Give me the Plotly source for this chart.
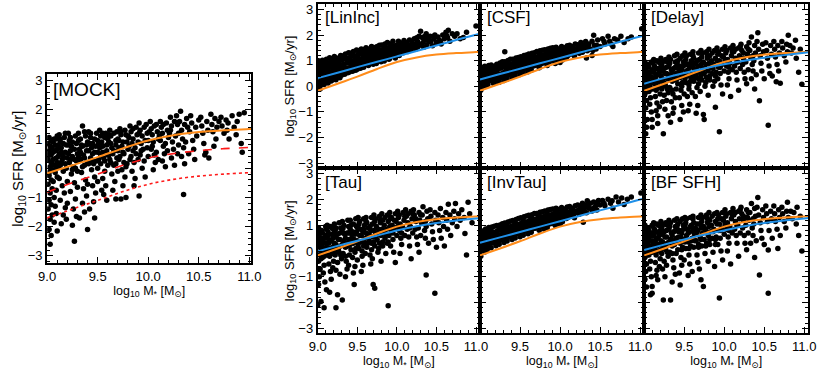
import plotly.graph_objects as go

W, H = 830, 370
ORANGE = "#ff8c1a"
BLUE = "#2090e8"
RED = "#ff1a1a"
FONT = "Liberation Sans, DejaVu Sans, Arial, sans-serif"

# mass grid for the model curves
CURVE_MASS = [9.0, 9.25, 9.5, 9.75, 10.0, 10.25, 10.5, 10.75, 11.0, 11.05]
TRUE_SFR = [-0.17, 0.1, 0.38, 0.68, 0.95, 1.13, 1.24, 1.3, 1.34, 1.35]
MOCK_DASH = [-0.82, -0.5, -0.2, 0.1, 0.35, 0.5, 0.6, 0.67, 0.71, 0.72]
MOCK_DOT = [-1.7, -1.4, -1.1, -0.8, -0.55, -0.38, -0.27, -0.2, -0.15, -0.14]

FIT_LININC = [0.32, 0.53, 0.75, 0.96, 1.17, 1.38, 1.6, 1.81, 2.02, 2.06]
FIT_CSF = [0.27, 0.48, 0.69, 0.9, 1.11, 1.32, 1.53, 1.74, 1.95, 1.99]
FIT_DELAY = [0.1, 0.32, 0.52, 0.7, 0.86, 1.0, 1.12, 1.22, 1.31, 1.33]
FIT_TAU = [-0.02, 0.2, 0.4, 0.6, 0.8, 0.96, 1.09, 1.19, 1.26, 1.27]
FIT_INVTAU = [0.32, 0.53, 0.74, 0.95, 1.16, 1.37, 1.58, 1.79, 2.0, 2.04]
FIT_BF = [0.04, 0.25, 0.45, 0.63, 0.8, 0.96, 1.09, 1.19, 1.26, 1.28]

# (log M*, log SFR) points
MOCK_PTS = [
    (9.01,0.85),(9.02,0.6),(9.01,0.3),(9.03,0.05),(9.02,-0.25),(9.01,-0.55),(9.03,-0.85),(9.02,-1.1),(9.01,-1.4),(9.03,-1.75),(9.02,-2.1),(9.04,-2.3),(9.03,-2.6),(9.04,0.95),(9.05,0.7),(9.04,0.45),(9.05,0.15),(9.04,-0.4),(9.05,-0.7),(9.04,-1.25),(9.05,-1.6),
    (9.07,1.0),(9.08,0.8),(9.06,0.55),(9.09,0.35),(9.07,0.1),(9.08,-0.15),(9.06,-0.45),(9.09,-0.75),(9.07,-1.0),(9.08,-1.3),(9.09,-1.55),(9.07,-1.85),(9.1,-2.15),(9.1,1.1),(9.1,0.65),(9.1,0.2),(9.1,-0.3),
    (9.12,1.15),(9.13,0.9),(9.14,0.7),(9.12,0.5),(9.15,0.3),(9.13,0.1),(9.16,-0.1),(9.12,-0.35),(9.15,-0.6),(9.17,-0.85),(9.13,-1.1),(9.18,-1.35),(9.16,-1.6),(9.19,-1.75),(9.17,1.05),(9.19,0.8),(9.18,0.55),(9.2,0.35),(9.19,0.0),(9.2,-0.45),(9.14,-1.9),(9.2,-1.2),
    (9.21,1.2),(9.22,0.95),(9.24,0.75),(9.23,0.6),(9.25,0.4),(9.22,0.2),(9.26,0.05),(9.24,-0.2),(9.27,-0.5),(9.23,-0.8),(9.28,-1.05),(9.26,-1.4),(9.29,-1.65),(9.25,-1.95),(9.27,-2.5),(9.28,1.1),(9.29,0.85),(9.3,0.5),(9.29,0.25),(9.3,-0.1),(9.3,-0.65),
    (9.31,1.2),(9.33,1.0),(9.34,0.8),(9.32,0.65),(9.35,1.45),(9.36,0.45),(9.33,0.3),(9.37,0.1),(9.34,-0.15),(9.38,-0.4),(9.36,-0.7),(9.39,-0.95),(9.35,-1.2),(9.37,-1.5),(9.32,-1.7),(9.4,-2.1),(9.38,1.1),(9.4,0.9),(9.39,0.6),(9.4,0.2),(9.4,-0.55),
    (9.41,1.25),(9.43,1.05),(9.42,0.85),(9.44,0.7),(9.45,0.5),(9.43,0.35),(9.46,0.15),(9.44,-0.05),(9.47,-0.3),(9.45,-0.6),(9.48,-0.85),(9.46,-1.15),(9.47,-1.7),(9.49,1.2),(9.5,0.95),(9.48,0.75),(9.5,0.55),(9.49,0.25),(9.5,0.0),(9.5,-0.45),(9.42,-1.4),
    (9.52,1.3),(9.53,1.1),(9.54,0.9),(9.52,0.7),(9.55,0.55),(9.56,0.35),(9.53,0.15),(9.57,-0.1),(9.55,-0.35),(9.58,-0.6),(9.56,-0.9),(9.59,-1.1),(9.58,1.2),(9.6,1.0),(9.59,0.8),(9.6,0.45),(9.6,0.1),(9.54,-0.75),
    (9.62,1.3),(9.63,1.1),(9.61,0.9),(9.64,0.7),(9.65,0.5),(9.62,0.3),(9.66,0.1),(9.64,-0.2),(9.67,-0.45),(9.65,-0.75),(9.68,-1.05),(9.69,1.25),(9.7,1.0),(9.68,0.8),(9.7,0.6),(9.69,0.35),(9.7,-0.1),
    (9.72,1.35),(9.73,1.15),(9.71,0.95),(9.74,0.75),(9.75,0.55),(9.72,0.4),(9.76,0.2),(9.74,-0.05),(9.77,-0.3),(9.75,-0.6),(9.78,-1.0),(9.77,1.3),(9.8,1.1),(9.79,0.9),(9.8,0.65),(9.79,0.15),(9.73,-1.05),
    (9.82,1.45),(9.83,1.25),(9.81,1.05),(9.84,0.85),(9.85,0.6),(9.83,0.4),(9.86,0.2),(9.84,-0.1),(9.87,-0.35),(9.88,1.4),(9.89,1.15),(9.9,0.9),(9.88,0.5),(9.9,0.3),(9.86,-0.6),
    (9.91,1.55),(9.92,1.3),(9.94,1.1),(9.93,0.85),(9.95,0.65),(9.92,0.45),(9.96,0.25),(9.94,0.0),(9.97,-0.3),(9.91,-0.95),(9.98,1.5),(9.99,1.2),(10.0,0.95),(9.99,0.7),(10.0,0.4),
    (10.02,1.6),(10.03,1.35),(10.04,1.15),(10.05,0.9),(10.03,0.65),(10.06,0.45),(10.07,0.2),(10.05,-0.05),(10.08,1.5),(10.09,1.25),(10.1,1.0),(10.08,0.55),(10.1,0.3),
    (10.12,1.6),(10.13,1.4),(10.14,1.2),(10.12,0.95),(10.15,0.75),(10.16,0.5),(10.14,0.25),(10.17,0.05),(10.18,1.55),(10.19,1.3),(10.2,1.05),(10.19,0.6),
    (10.22,1.75),(10.23,1.45),(10.21,1.2),(10.24,0.9),(10.25,0.65),(10.23,0.35),(10.26,0.1),(10.28,1.8),(10.29,1.5),(10.27,1.1),(10.3,0.8),(10.29,0.5),
    (10.32,1.95),(10.31,1.6),(10.33,1.3),(10.34,1.0),(10.35,0.7),(10.33,0.4),(10.36,0.15),(10.35,-0.9),(10.38,1.7),(10.39,1.4),(10.37,0.9),(10.4,0.5),
    (10.42,1.8),(10.43,1.55),(10.41,1.25),(10.44,0.95),(10.45,0.65),(10.47,1.4),(10.48,1.1),(10.46,0.3),(10.5,1.65),
    (10.52,1.75),(10.53,1.45),(10.54,1.2),(10.55,0.85),(10.57,0.55),(10.58,1.6),(10.59,1.3),(10.6,0.35),(10.56,0.45),
    (10.62,1.85),(10.63,1.5),(10.64,1.25),(10.66,1.7),(10.67,1.0),(10.68,1.4),(10.65,0.75),(10.7,1.6),
    (10.72,1.75),(10.73,1.45),(10.75,1.2),(10.77,1.65),(10.78,1.3),(10.8,1.0),(10.79,1.55),
    (10.83,1.8),(10.85,1.4),(10.87,1.15),(10.9,1.85),(10.92,0.85),(10.93,0.55),(10.88,1.6),(10.95,1.9),
]
MOCK_CORE = [
    (9.02,1.05),(9.03,0.75),(9.02,0.45),(9.04,0.2),(9.03,-0.1),(9.05,-0.05),(9.06,0.9),(9.06,0.3),(9.08,0.6),(9.09,0.0),(9.09,1.0),(9.11,0.8),(9.11,0.4),(9.11,0.05),(9.13,1.0),(9.14,0.55),(9.14,0.2),(9.16,0.85),(9.16,0.4),(9.18,1.2),(9.18,0.15),
    (9.21,0.8),(9.21,0.5),(9.23,0.3),(9.23,1.05),(9.25,0.9),(9.25,-0.05),(9.27,0.65),(9.27,0.3),(9.28,0.0),(9.31,0.95),(9.31,0.4),(9.33,0.55),(9.35,0.75),(9.35,0.05),(9.37,1.25),(9.37,0.35),(9.39,0.8),
    (9.41,0.6),(9.41,0.15),(9.43,1.2),(9.45,0.85),(9.45,0.25),(9.47,0.55),(9.47,1.0),(9.51,0.85),(9.51,0.3),(9.53,0.45),(9.55,1.2),(9.55,0.75),(9.57,0.25),(9.57,1.05),(9.59,0.6),
    (9.61,1.15),(9.61,0.45),(9.63,0.85),(9.63,0.2),(9.66,1.2),(9.66,0.6),(9.68,0.95),(9.68,0.15),(9.71,0.7),(9.71,0.3),(9.73,1.25),(9.75,0.9),(9.76,0.5),(9.78,1.15),(9.78,0.05),
    (9.81,0.75),(9.82,0.3),(9.85,1.35),(9.85,1.0),(9.87,0.7),(9.91,1.2),(9.93,0.6),(9.96,1.4),(9.97,0.95),(10.01,1.25),(10.04,0.75),(10.06,1.45),(10.11,1.1),(10.15,1.5),(10.17,0.85),(10.22,1.3),(10.26,1.6),(10.3,1.2),(10.36,1.5),
]

LININC_PTS = [
    (9.01,1.0),(9.02,0.83),(9.01,0.62),(9.03,0.37),(9.02,0.18),(9.01,0.02),(9.03,-0.1),(9.04,0.92),(9.05,0.71),(9.04,0.48),(9.05,0.27),(9.04,0.09),
    (9.06,1.02),(9.07,0.86),(9.06,0.63),(9.08,0.43),(9.07,0.24),(9.08,0.07),(9.09,0.97),(9.1,0.76),(9.09,0.53),(9.1,0.34),(9.1,0.16),
    (9.11,1.06),(9.12,0.88),(9.13,0.69),(9.12,0.47),(9.14,0.31),(9.13,0.13),(9.15,1.12),(9.16,0.94),(9.17,0.77),(9.16,0.56),(9.18,0.36),(9.17,0.21),(9.19,1.04),(9.2,0.86),(9.19,0.63),(9.2,0.46),(9.2,0.27),
    (9.21,1.17),(9.22,0.99),(9.23,0.78),(9.22,0.61),(9.24,0.41),(9.23,0.26),(9.25,1.09),(9.26,0.92),(9.27,0.71),(9.26,0.52),(9.28,0.34),(9.29,1.21),(9.3,1.02),(9.29,0.81),(9.3,0.59),(9.3,0.43),
    (9.31,1.19),(9.32,1.06),(9.33,0.87),(9.32,0.66),(9.34,0.47),(9.35,1.26),(9.36,1.08),(9.37,0.91),(9.36,0.72),(9.38,0.53),(9.39,1.31),(9.4,1.12),(9.39,0.93),(9.4,0.73),(9.4,0.56),
    (9.41,1.29),(9.42,1.16),(9.43,0.97),(9.42,0.77),(9.44,0.59),(9.45,1.36),(9.46,1.19),(9.47,1.01),(9.46,0.81),(9.48,0.63),(9.49,1.42),(9.5,1.22),(9.49,1.03),(9.5,0.84),(9.5,0.67),
    (9.51,1.39),(9.52,1.24),(9.53,1.06),(9.52,0.87),(9.54,0.71),(9.55,1.46),(9.56,1.31),(9.57,1.12),(9.56,0.92),(9.58,0.75),(9.59,1.44),(9.6,1.26),(9.59,1.07),(9.6,0.86),
    (9.61,1.51),(9.62,1.32),(9.63,1.13),(9.62,0.96),(9.64,0.81),(9.65,1.46),(9.66,1.29),(9.67,1.11),(9.66,0.93),(9.68,1.56),(9.69,1.37),(9.7,1.16),(9.69,0.99),(9.7,0.86),
    (9.71,1.52),(9.72,1.34),(9.73,1.19),(9.72,1.01),(9.74,0.89),(9.75,1.56),(9.76,1.41),(9.77,1.21),(9.76,1.03),(9.78,1.61),(9.79,1.42),(9.8,1.26),(9.79,1.09),(9.8,0.96),
    (9.81,1.62),(9.82,1.43),(9.83,1.26),(9.82,1.09),(9.84,0.99),(9.85,1.66),(9.86,1.47),(9.87,1.31),(9.86,1.13),(9.88,1.71),(9.89,1.51),(9.9,1.33),(9.89,1.16),(9.9,1.06),
    (9.91,1.66),(9.92,1.51),(9.93,1.36),(9.92,1.19),(9.95,1.76),(9.96,1.56),(9.97,1.39),(9.96,1.21),(9.98,1.11),(9.99,1.61),(10.0,1.46),(10.0,1.26),
    (10.02,1.76),(10.03,1.56),(10.04,1.39),(10.03,1.21),(10.06,1.69),(10.07,1.49),(10.08,1.31),(10.09,1.79),(10.1,1.56),(10.1,1.36),
    (10.12,1.71),(10.13,1.53),(10.14,1.36),(10.16,1.81),(10.17,1.61),(10.18,1.43),(10.19,1.71),(10.2,1.51),
    (10.22,1.86),(10.23,1.66),(10.24,1.46),(10.26,1.76),(10.27,1.56),(10.28,1.96),(10.3,2.15),(10.29,1.63),
    (10.32,1.91),(10.33,1.71),(10.34,1.53),(10.36,1.81),(10.37,2.06),(10.38,1.63),(10.4,1.89),
    (10.42,1.96),(10.43,1.76),(10.45,1.59),(10.47,1.86),(10.48,2.01),(10.5,1.71),
    (10.52,1.93),(10.54,1.79),(10.56,1.66),(10.58,2.01),(10.6,1.86),
    (10.62,2.11),(10.65,2.19),(10.64,1.91),(10.67,1.76),(10.7,2.06),
    (10.73,1.96),(10.76,2.06),(10.8,1.86),(10.84,1.91),(10.88,2.11),(11.0,2.36),
]
LININC_CORE = [
    (9.02,0.5),(9.03,0.7),(9.05,0.85),(9.06,0.35),(9.08,0.95),(9.09,0.25),(9.11,0.6),(9.13,0.4),(9.14,0.85),(9.17,1.0),(9.18,0.5),(9.21,0.7),(9.22,0.35),(9.24,0.95),(9.26,0.6),(9.28,1.15),
    (9.31,0.55),(9.33,0.75),(9.34,1.15),(9.37,0.6),(9.38,1.0),(9.41,0.65),(9.43,0.85),(9.44,1.25),(9.47,0.7),(9.48,1.1),(9.51,0.75),(9.53,0.95),(9.54,1.35),(9.57,0.82),(9.58,1.2),
    (9.61,0.88),(9.63,1.05),(9.64,1.4),(9.67,0.9),(9.68,1.25),(9.71,0.95),(9.73,1.1),(9.74,1.48),(9.77,1.05),(9.78,1.3),(9.81,1.02),(9.83,1.15),(9.84,1.55),(9.87,1.15),(9.88,1.4),
    (9.91,1.1),(9.93,1.25),(9.94,1.6),(9.97,1.2),(9.98,1.5),(10.01,1.3),(10.04,1.6),(10.05,1.45),(10.08,1.65),(10.11,1.45),(10.15,1.6),(10.21,1.55),(10.25,1.9),(10.31,1.65),(10.35,1.95),
    (10.41,1.75),(10.46,1.95),(10.55,1.75),(10.63,1.98),
]

CSF_PTS = [
    (9.01,0.75),(9.02,0.56),(9.01,0.34),(9.03,0.16),(9.02,-0.04),(9.01,-0.15),(9.04,0.69),(9.05,0.49),(9.04,0.29),(9.05,0.11),(9.06,0.79),(9.07,0.61),(9.06,0.41),(9.08,0.19),(9.07,0.01),(9.09,0.71),(9.1,0.52),(9.09,0.31),(9.1,0.09),
    (9.11,0.81),(9.12,0.62),(9.13,0.41),(9.12,0.23),(9.14,0.83),(9.15,0.64),(9.16,0.46),(9.15,0.26),(9.17,0.11),(9.18,0.79),(9.19,0.61),(9.2,0.39),(9.19,0.21),
    (9.21,0.86),(9.22,0.66),(9.23,0.47),(9.22,0.31),(9.24,0.16),(9.25,0.91),(9.26,0.71),(9.27,0.49),(9.26,0.33),(9.28,0.96),(9.29,0.76),(9.3,0.54),(9.29,0.39),(9.3,0.23),
    (9.31,1.35),(9.31,0.96),(9.32,0.77),(9.33,0.61),(9.32,0.43),(9.34,0.29),(9.35,1.01),(9.36,0.81),(9.37,0.63),(9.36,0.46),(9.38,1.06),(9.39,0.86),(9.4,0.67),(9.39,0.51),(9.4,0.36),
    (9.41,1.06),(9.42,0.89),(9.43,0.71),(9.42,0.53),(9.44,0.41),(9.45,1.11),(9.46,0.93),(9.47,0.75),(9.46,0.57),(9.48,1.13),(9.49,0.96),(9.5,0.79),(9.49,0.61),(9.5,0.46),
    (9.51,1.16),(9.52,0.99),(9.53,0.81),(9.52,0.63),(9.54,0.51),(9.55,1.21),(9.56,1.01),(9.57,0.85),(9.56,0.67),(9.58,1.23),(9.59,1.06),(9.6,0.89),(9.59,0.71),(9.6,0.57),
    (9.61,1.26),(9.62,1.09),(9.63,0.91),(9.62,0.76),(9.64,0.63),(9.65,1.29),(9.66,1.11),(9.67,0.95),(9.66,0.79),(9.68,1.31),(9.69,1.13),(9.7,0.97),(9.69,0.81),
    (9.71,1.36),(9.72,1.16),(9.73,1.01),(9.72,0.85),(9.74,0.73),(9.75,1.39),(9.76,1.21),(9.77,1.03),(9.76,0.87),(9.78,1.41),(9.79,1.23),(9.8,1.06),(9.79,0.91),
    (9.81,1.43),(9.82,1.26),(9.83,1.09),(9.82,0.93),(9.84,0.81),(9.85,1.46),(9.86,1.29),(9.87,1.11),(9.86,0.96),(9.88,1.49),(9.89,1.31),(9.9,1.13),(9.89,0.99),
    (9.91,1.51),(9.92,1.33),(9.93,1.16),(9.92,1.01),(9.94,0.89),(9.95,1.53),(9.96,1.36),(9.97,1.19),(9.96,1.03),(9.98,1.46),(9.99,1.26),(10.0,1.09),(10.0,0.93),
    (10.02,1.56),(10.03,1.39),(10.04,1.21),(10.03,1.03),(10.06,1.51),(10.07,1.31),(10.08,1.13),(10.09,1.59),(10.1,1.41),(10.1,1.21),
    (10.12,1.61),(10.13,1.43),(10.14,1.26),(10.16,1.56),(10.17,1.36),(10.18,1.19),(10.19,1.66),(10.2,1.46),
    (10.22,1.63),(10.23,1.46),(10.24,1.29),(10.26,1.71),(10.27,1.51),(10.28,1.33),(10.3,1.61),
    (10.32,1.75),(10.33,1.56),(10.34,1.39),(10.33,1.11),(10.36,1.66),(10.38,1.46),(10.4,1.76),(10.4,1.21),
    (10.42,2.0),(10.43,1.61),(10.45,1.46),(10.47,1.81),(10.5,1.56),
    (10.53,1.86),(10.56,1.66),(10.6,1.96),(10.62,1.76),(10.66,1.56),(10.68,1.86),
    (10.72,1.81),(10.76,1.96),(10.8,1.71),(10.85,1.86),(10.89,1.93),(11.02,2.25),
]
CSF_CORE = [
    (9.02,0.25),(9.03,0.45),(9.05,0.6),(9.06,0.15),(9.08,0.7),(9.09,0.05),(9.11,0.5),(9.13,0.3),(9.14,0.7),(9.17,0.55),(9.18,0.35),(9.21,0.55),(9.22,0.2),(9.24,0.75),(9.26,0.4),(9.28,0.85),
    (9.31,0.5),(9.33,0.7),(9.34,0.9),(9.37,0.5),(9.38,0.8),(9.41,0.6),(9.43,0.8),(9.44,1.0),(9.47,0.65),(9.48,0.9),(9.51,0.7),(9.53,0.9),(9.54,1.1),(9.57,0.75),(9.58,1.0),
    (9.61,0.8),(9.63,1.0),(9.64,1.2),(9.67,0.85),(9.68,1.05),(9.71,0.9),(9.73,1.1),(9.74,1.3),(9.77,0.95),(9.78,1.15),(9.81,1.0),(9.83,1.2),(9.84,1.35),(9.87,1.05),(9.88,1.25),
    (9.91,1.05),(9.93,1.25),(9.94,1.45),(9.97,1.1),(9.98,1.35),(10.01,1.15),(10.04,1.45),(10.05,1.3),(10.08,1.5),(10.11,1.3),(10.15,1.45),(10.21,1.35),(10.25,1.55),(10.31,1.45),(10.35,1.55),
    (10.41,1.4),(10.46,1.6),(10.55,1.75),(10.64,1.65),
]

DELAY_PTS = [
    (9.01,0.95),(9.02,0.7),(9.01,0.45),(9.03,0.2),(9.02,-0.05),(9.01,-0.3),(9.03,-0.55),(9.02,-0.85),(9.04,-1.3),(9.03,-1.6),(9.02,-1.85),(9.05,0.85),(9.06,0.55),(9.05,0.3),(9.07,0.05),(9.06,-0.2),(9.08,-0.45),(9.07,-0.7),(9.09,-1.0),(9.1,-1.3),(9.09,0.95),(9.1,0.65),(9.1,0.35),(9.1,-0.1),(9.1,-1.6),
    (9.12,1.05),(9.13,0.8),(9.12,0.55),(9.14,0.35),(9.13,0.1),(9.15,-0.15),(9.14,-0.4),(9.16,-0.65),(9.15,-0.95),(9.17,-1.15),(9.16,1.0),(9.18,0.7),(9.17,0.45),(9.19,0.2),(9.18,-0.05),(9.2,-0.3),(9.19,-0.8),(9.2,0.9),(9.17,-1.45),
    (9.21,1.1),(9.22,0.85),(9.23,0.6),(9.21,0.4),(9.24,0.15),(9.22,-0.1),(9.25,-0.35),(9.23,-0.6),(9.26,-0.9),(9.24,-1.85),(9.27,1.05),(9.28,0.75),(9.26,0.5),(9.29,0.3),(9.27,0.0),(9.3,-0.25),(9.28,-0.55),(9.3,-1.15),(9.29,0.95),
    (9.31,1.15),(9.32,0.9),(9.34,0.65),(9.33,0.45),(9.35,0.2),(9.32,-0.05),(9.36,-0.3),(9.34,-0.6),(9.37,-0.85),(9.33,-1.4),(9.38,1.2),(9.39,0.95),(9.37,0.7),(9.4,0.5),(9.38,0.25),(9.4,-0.1),(9.39,-0.45),(9.36,-1.05),
    (9.41,1.25),(9.42,1.0),(9.44,0.8),(9.43,0.55),(9.45,0.35),(9.42,0.1),(9.46,-0.15),(9.44,-0.45),(9.47,-0.75),(9.45,-1.3),(9.48,1.2),(9.49,0.95),(9.47,0.65),(9.5,0.4),(9.48,0.15),(9.5,-0.3),(9.49,-1.0),
    (9.51,1.3),(9.52,1.05),(9.54,0.85),(9.53,0.6),(9.55,0.4),(9.52,0.15),(9.56,-0.1),(9.54,-0.4),(9.57,-0.7),(9.58,1.25),(9.59,1.0),(9.57,0.75),(9.6,0.5),(9.58,0.2),(9.6,-0.25),(9.55,-0.95),
    (9.61,1.35),(9.62,1.1),(9.64,0.9),(9.63,0.65),(9.65,0.45),(9.62,0.2),(9.66,-0.05),(9.64,-0.4),(9.67,-0.75),(9.68,1.3),(9.69,1.05),(9.67,0.8),(9.7,0.55),(9.68,0.3),(9.7,-0.2),(9.65,-1.05),
    (9.71,1.4),(9.72,1.15),(9.74,0.95),(9.73,0.7),(9.75,0.5),(9.72,0.25),(9.76,0.0),(9.74,-1.1),(9.75,-1.3),(9.78,1.35),(9.79,1.1),(9.77,0.85),(9.8,0.6),(9.78,0.35),(9.8,-0.35),
    (9.81,1.45),(9.82,1.2),(9.84,1.0),(9.83,0.75),(9.85,0.5),(9.82,0.25),(9.86,0.0),(9.88,1.4),(9.89,1.1),(9.87,0.85),(9.9,0.55),(9.89,-0.82),(9.88,0.2),
    (9.91,1.5),(9.92,1.25),(9.94,1.0),(9.93,0.75),(9.95,0.5),(9.92,0.3),(9.96,0.05),(9.94,-1.78),(9.98,1.45),(9.99,1.15),(9.97,0.85),(10.0,0.6),(9.98,-0.3),
    (10.01,1.55),(10.02,1.3),(10.04,1.05),(10.03,0.8),(10.05,0.55),(10.06,0.3),(10.04,0.05),(10.08,1.5),(10.09,1.2),(10.07,0.9),(10.1,0.65),(10.08,-0.4),
    (10.11,1.6),(10.12,1.35),(10.14,1.1),(10.13,0.8),(10.15,0.55),(10.16,0.25),(10.18,1.5),(10.19,1.2),(10.17,0.95),(10.2,0.7),(10.18,-0.15),
    (10.21,1.65),(10.22,1.4),(10.24,1.1),(10.23,0.85),(10.25,0.55),(10.26,0.3),(10.28,1.55),(10.29,1.25),(10.27,0.95),(10.3,0.65),(10.28,0.1),
    (10.31,1.7),(10.34,1.93),(10.32,1.4),(10.33,1.15),(10.35,0.85),(10.36,0.6),(10.34,0.3),(10.38,1.6),(10.39,1.3),(10.37,1.0),(10.4,0.45),(10.38,-0.1),
    (10.42,2.1),(10.41,1.75),(10.43,1.45),(10.44,-0.56),(10.45,1.2),(10.46,0.9),(10.47,0.6),(10.48,1.65),(10.49,1.35),(10.5,0.3),
    (10.55,-1.52),(10.52,1.7),(10.53,1.4),(10.54,1.1),(10.56,0.8),(10.57,0.5),(10.58,1.6),(10.59,1.25),(10.6,0.4),
    (10.62,1.75),(10.63,1.45),(10.64,1.15),(10.65,0.18),(10.66,0.85),(10.67,1.6),(10.69,1.3),(10.7,0.12),(10.68,0.6),
    (10.72,1.75),(10.73,1.5),(10.75,1.2),(10.77,0.95),(10.78,1.65),(10.8,2.0),(10.79,1.35),
    (10.82,1.6),(10.84,1.3),(10.86,1.5),(10.89,1.8),(10.9,1.1),(10.93,0.55),(10.97,0.08),(10.95,1.45),
]
DELAY_CORE = [
    (9.02,0.85),(9.03,0.55),(9.02,0.3),(9.04,0.05),(9.04,-0.2),(9.06,0.75),(9.06,0.4),(9.08,0.15),(9.08,-0.1),(9.09,0.55),(9.11,0.9),(9.11,0.2),(9.13,0.65),(9.14,-0.1),(9.15,0.45),(9.16,0.15),(9.18,0.95),(9.19,0.55),
    (9.21,0.75),(9.21,0.0),(9.23,0.95),(9.23,0.3),(9.25,0.7),(9.26,0.1),(9.28,0.5),(9.29,-0.1),(9.31,0.8),(9.31,0.3),(9.33,1.05),(9.35,0.55),(9.35,-0.15),(9.37,0.35),(9.39,0.75),
    (9.41,0.9),(9.41,0.3),(9.43,0.7),(9.45,1.1),(9.46,0.5),(9.47,0.0),(9.49,0.8),(9.51,0.95),(9.51,0.3),(9.53,1.2),(9.55,0.65),(9.56,0.05),(9.58,0.9),(9.59,0.35),
    (9.61,0.75),(9.61,1.2),(9.63,0.35),(9.66,1.0),(9.66,0.65),(9.68,0.1),(9.71,0.85),(9.71,0.4),(9.73,1.3),(9.76,0.7),(9.77,0.15),(9.79,1.2),(9.81,0.9),(9.82,0.4),(9.85,1.3),(9.86,0.7),(9.89,0.4),
    (9.91,1.0),(9.93,1.35),(9.95,0.75),(9.97,1.2),(10.01,1.0),(10.03,1.4),(10.06,0.75),(10.1,1.35),(10.14,1.45),(10.16,0.95),(10.2,1.55),(10.24,1.3),(10.3,1.45),(10.36,1.2),
]

TAU_PTS = [
    (9.01,0.9),(9.02,0.65),(9.01,0.4),(9.03,0.15),(9.02,-0.1),(9.01,-0.4),(9.03,-0.7),(9.02,-1.0),(9.01,-1.3),(9.0,-2.1),(9.04,-1.96),(9.05,0.8),(9.06,0.5),(9.05,0.25),(9.07,0.0),(9.06,-0.25),(9.08,-0.55),(9.07,-0.85),(9.09,-1.2),(9.08,-2.2),(9.1,0.95),(9.1,0.6),(9.1,0.3),(9.1,-0.15),(9.11,-1.5),
    (9.12,1.0),(9.13,0.75),(9.12,0.5),(9.14,0.3),(9.13,0.05),(9.15,-0.2),(9.14,-0.5),(9.16,-0.8),(9.17,-1.1),(9.16,0.95),(9.18,0.65),(9.17,0.4),(9.19,0.15),(9.18,-0.1),(9.2,-0.4),(9.19,-0.65),(9.2,0.85),(9.15,-1.6),
    (9.21,1.05),(9.22,0.8),(9.23,0.55),(9.21,0.3),(9.24,0.1),(9.22,-0.15),(9.25,-0.45),(9.23,-0.75),(9.23,-2.2),(9.25,-1.7),(9.27,1.1),(9.28,0.7),(9.26,0.45),(9.29,0.2),(9.27,-0.05),(9.3,-0.3),(9.28,-0.9),(9.29,0.9),
    (9.31,1.15),(9.32,0.9),(9.34,0.65),(9.33,0.4),(9.35,0.15),(9.32,-0.1),(9.36,-0.4),(9.31,-1.9),(9.37,-0.7),(9.38,1.2),(9.39,0.95),(9.37,0.7),(9.4,0.45),(9.38,0.2),(9.4,-0.15),(9.39,-0.55),(9.35,-1.0),
    (9.41,1.2),(9.42,1.0),(9.44,0.75),(9.43,0.5),(9.45,0.3),(9.42,0.05),(9.46,-1.3),(9.44,-0.25),(9.47,-0.6),(9.48,1.25),(9.49,0.95),(9.47,0.65),(9.5,0.4),(9.48,0.1),(9.5,-0.35),(9.45,-0.85),
    (9.51,1.3),(9.52,1.05),(9.54,0.85),(9.53,0.6),(9.55,0.35),(9.52,0.1),(9.56,-0.2),(9.57,-0.55),(9.58,1.25),(9.59,1.0),(9.57,0.75),(9.6,0.5),(9.58,0.2),(9.6,-0.1),(9.55,-0.8),
    (9.61,1.3),(9.62,1.1),(9.64,0.9),(9.63,0.65),(9.65,0.4),(9.62,0.15),(9.66,-0.15),(9.67,-0.5),(9.68,1.3),(9.69,1.05),(9.67,0.8),(9.7,0.55),(9.68,0.3),(9.7,-1.3),(9.69,-0.3),
    (9.71,1.4),(9.72,1.15),(9.74,0.95),(9.73,0.7),(9.75,0.45),(9.72,0.2),(9.76,-0.05),(9.72,-1.45),(9.78,1.35),(9.79,1.1),(9.77,0.85),(9.8,0.6),(9.78,0.3),(9.8,-0.4),
    (9.81,1.45),(9.82,1.2),(9.84,1.0),(9.83,0.75),(9.85,0.5),(9.82,0.2),(9.86,-0.1),(9.89,-2.13),(9.88,1.4),(9.89,1.15),(9.87,0.85),(9.9,0.6),(9.88,0.3),
    (9.91,1.5),(9.92,1.25),(9.94,1.0),(9.93,0.75),(9.95,0.45),(9.92,0.2),(9.96,-0.05),(9.98,1.45),(9.99,1.15),(9.97,0.9),(10.0,0.6),(9.98,-0.45),
    (10.01,1.55),(10.02,1.3),(10.04,1.05),(10.03,0.8),(10.05,0.5),(10.06,0.25),(10.04,-0.1),(10.08,1.5),(10.09,1.2),(10.07,0.95),(10.1,0.6),
    (10.11,1.6),(10.12,1.35),(10.14,1.1),(10.13,0.85),(10.15,0.55),(10.16,0.2),(10.18,1.55),(10.19,1.25),(10.17,0.95),(10.2,0.7),(10.18,-0.3),
    (10.21,1.6),(10.22,1.4),(10.24,1.15),(10.23,0.85),(10.25,0.55),(10.26,0.25),(10.28,1.5),(10.29,1.2),(10.27,0.9),(10.3,0.6),(10.28,-0.05),
    (10.33,1.72),(10.32,1.4),(10.31,1.1),(10.35,0.8),(10.36,0.5),(10.37,-0.93),(10.38,1.55),(10.39,1.25),(10.37,0.95),(10.4,0.3),
    (10.42,1.6),(10.43,1.35),(10.44,1.05),(10.45,0.75),(10.46,0.45),(10.48,-1.64),(10.48,1.5),(10.49,1.2),(10.5,0.15),
    (10.55,1.65),(10.52,1.4),(10.53,1.1),(10.54,0.8),(10.56,0.5),(10.58,1.3),(10.59,0.95),(10.6,0.2),
    (10.65,1.82),(10.62,1.5),(10.63,1.2),(10.64,0.85),(10.67,1.4),(10.68,0.6),(10.7,1.1),
    (10.74,1.85),(10.72,1.55),(10.73,1.25),(10.76,0.95),(10.78,1.45),(10.8,1.2),
    (10.82,1.6),(10.85,1.3),(10.86,0.68),(10.88,-0.15),(10.9,1.9),(10.92,1.45),(10.95,1.1),
]
TAU_CORE = [
    (9.02,0.8),(9.03,0.5),(9.02,0.25),(9.04,0.0),(9.04,-0.3),(9.06,0.7),(9.06,0.35),(9.08,0.1),(9.08,-0.2),(9.09,0.5),(9.11,0.85),(9.11,0.15),(9.13,0.6),(9.14,-0.15),(9.15,0.4),(9.16,0.1),(9.18,0.9),(9.19,0.5),
    (9.21,0.7),(9.21,-0.05),(9.23,0.9),(9.23,0.25),(9.25,0.65),(9.26,0.05),(9.28,0.45),(9.29,-0.15),(9.31,0.75),(9.31,0.25),(9.33,1.0),(9.35,0.5),(9.35,-0.2),(9.37,0.3),(9.39,0.7),
    (9.41,0.85),(9.41,0.25),(9.43,0.65),(9.45,1.05),(9.46,0.45),(9.47,-0.05),(9.49,0.75),(9.51,0.9),(9.51,0.25),(9.53,1.15),(9.55,0.6),(9.56,0.0),(9.58,0.85),(9.59,0.3),
    (9.61,0.7),(9.61,1.15),(9.63,0.3),(9.66,0.95),(9.66,0.6),(9.68,0.05),(9.71,0.8),(9.71,0.35),(9.73,1.25),(9.76,0.65),(9.77,0.1),(9.79,1.2),(9.81,0.85),(9.82,0.35),(9.85,1.3),(9.86,0.65),(9.89,0.35),
    (9.91,0.95),(9.93,1.3),(9.95,0.7),(9.97,1.2),(10.01,0.95),(10.03,1.4),(10.06,0.7),(10.1,1.35),(10.14,1.45),(10.16,0.9),(10.2,1.45),(10.24,1.25),(10.3,1.4),(10.36,1.15),
]

INVTAU_PTS = [
    (9.01,0.8),(9.02,0.61),(9.01,0.39),(9.03,0.21),(9.02,0.01),(9.01,-0.2),(9.04,0.76),(9.05,0.54),(9.04,0.36),(9.05,0.14),(9.06,-0.04),(9.07,0.86),(9.08,0.64),(9.07,0.46),(9.08,0.24),(9.09,0.06),(9.1,0.81),(9.1,0.59),(9.1,0.41),(9.1,0.19),
    (9.11,0.91),(9.12,0.69),(9.13,0.51),(9.12,0.29),(9.14,0.13),(9.15,0.93),(9.16,0.71),(9.17,0.53),(9.16,0.31),(9.18,0.96),(9.19,0.74),(9.2,0.56),(9.19,0.34),(9.2,0.21),
    (9.21,0.99),(9.22,0.79),(9.23,0.61),(9.22,0.39),(9.24,0.26),(9.25,1.01),(9.26,0.81),(9.27,0.63),(9.26,0.43),(9.28,1.06),(9.29,0.84),(9.3,0.67),(9.29,0.47),(9.3,0.33),
    (9.31,1.09),(9.32,0.89),(9.33,0.71),(9.32,0.51),(9.34,0.39),(9.35,1.13),(9.36,0.91),(9.37,0.75),(9.36,0.55),(9.38,1.16),(9.39,0.95),(9.4,0.79),(9.39,0.59),(9.4,0.45),
    (9.41,1.19),(9.42,0.99),(9.43,0.83),(9.42,0.63),(9.44,0.51),(9.45,1.23),(9.46,1.01),(9.47,0.86),(9.46,0.67),(9.48,1.26),(9.49,1.04),(9.5,0.89),(9.49,0.69),(9.5,0.56),
    (9.51,1.29),(9.52,1.09),(9.53,0.93),(9.52,0.74),(9.54,0.61),(9.55,1.33),(9.56,1.11),(9.57,0.96),(9.56,0.77),(9.58,1.36),(9.59,1.14),(9.6,0.99),(9.59,0.79),(9.6,0.67),
    (9.61,1.39),(9.62,1.19),(9.63,1.03),(9.62,0.84),(9.64,0.73),(9.65,1.41),(9.66,1.21),(9.67,1.06),(9.66,0.87),(9.68,1.46),(9.69,1.24),(9.7,1.09),(9.69,0.89),
    (9.71,1.46),(9.72,1.27),(9.73,1.11),(9.72,0.93),(9.74,0.81),(9.75,1.51),(9.76,1.29),(9.77,1.13),(9.76,0.95),(9.78,1.53),(9.79,1.33),(9.8,1.16),(9.79,0.97),(9.8,0.86),
    (9.81,1.56),(9.82,1.37),(9.83,1.21),(9.82,1.01),(9.84,0.91),(9.85,1.59),(9.86,1.39),(9.87,1.23),(9.86,1.04),(9.88,1.61),(9.89,1.41),(9.9,1.26),(9.89,1.07),
    (9.91,1.63),(9.92,1.44),(9.93,1.29),(9.92,1.09),(9.94,0.99),(9.95,1.66),(9.96,1.47),(9.97,1.31),(9.96,1.11),(9.98,1.61),(9.99,1.39),(10.0,1.23),(10.0,1.04),
    (10.02,1.69),(10.03,1.49),(10.04,1.33),(10.03,1.14),(10.06,1.63),(10.07,1.41),(10.08,1.26),(10.09,1.71),(10.1,1.49),(10.1,1.31),
    (10.12,1.73),(10.13,1.54),(10.14,1.39),(10.16,1.66),(10.17,1.44),(10.18,1.29),(10.19,1.76),(10.2,1.54),
    (10.22,1.79),(10.23,1.59),(10.24,1.43),(10.26,1.71),(10.27,1.49),(10.28,1.86),(10.3,1.61),(10.29,1.12),
    (10.32,1.79),(10.34,1.95),(10.33,1.49),(10.36,1.66),(10.38,1.86),(10.4,1.56),
    (10.42,1.91),(10.44,1.73),(10.46,1.59),(10.48,1.96),(10.5,1.79),
    (10.53,1.96),(10.56,1.76),(10.6,2.01),(10.63,1.86),(10.66,1.66),(10.7,2.1),
    (10.73,1.91),(10.77,2.06),(10.8,1.81),(10.84,2.01),(10.89,2.1),(11.01,2.26),
]
INVTAU_CORE = [
    (9.02,0.3),(9.03,0.5),(9.05,0.65),(9.06,0.25),(9.08,0.75),(9.09,0.15),(9.11,0.6),(9.13,0.4),(9.14,0.8),(9.17,0.65),(9.18,0.45),(9.21,0.7),(9.22,0.3),(9.24,0.9),(9.26,0.55),(9.28,0.95),
    (9.31,0.6),(9.33,0.8),(9.34,1.0),(9.37,0.65),(9.38,0.85),(9.41,0.7),(9.43,0.9),(9.44,1.1),(9.47,0.75),(9.48,1.0),(9.51,0.82),(9.53,1.0),(9.54,1.2),(9.57,0.87),(9.58,1.08),
    (9.61,0.92),(9.63,1.1),(9.64,1.3),(9.67,0.97),(9.68,1.15),(9.71,1.02),(9.73,1.2),(9.74,1.38),(9.77,1.05),(9.78,1.25),(9.81,1.1),(9.83,1.3),(9.84,1.45),(9.87,1.15),(9.88,1.35),
    (9.91,1.18),(9.93,1.38),(9.94,1.55),(9.97,1.22),(9.98,1.45),(10.01,1.3),(10.04,1.58),(10.05,1.4),(10.08,1.55),(10.11,1.4),(10.15,1.55),(10.21,1.5),(10.25,1.62),(10.31,1.7),(10.35,1.75),
    (10.41,1.65),(10.46,1.85),(10.55,1.85),(10.65,1.95),
]

BF_PTS = [
    (9.01,1.0),(9.02,0.75),(9.01,0.5),(9.03,0.25),(9.02,0.0),(9.01,-0.25),(9.03,-0.5),(9.02,-0.8),(9.01,-1.1),(9.03,-1.4),(9.05,0.9),(9.06,0.6),(9.05,0.35),(9.07,0.1),(9.06,-0.15),(9.08,-0.4),(9.07,-0.7),(9.08,-1.7),(9.09,-1.0),(9.1,-1.64),(9.1,1.0),(9.1,0.7),(9.1,0.4),(9.1,-0.05),(9.1,-1.38),
    (9.12,1.1),(9.13,0.85),(9.12,0.6),(9.14,0.35),(9.13,0.1),(9.15,-0.15),(9.14,-0.45),(9.16,-0.75),(9.17,-1.12),(9.16,1.05),(9.18,0.75),(9.17,0.5),(9.19,0.25),(9.18,0.0),(9.2,-0.3),(9.19,-0.6),(9.2,0.95),(9.15,-0.95),
    (9.21,1.15),(9.22,0.9),(9.23,0.65),(9.21,0.4),(9.24,0.15),(9.22,-0.1),(9.25,-0.4),(9.23,-0.7),(9.24,-1.9),(9.26,-1.0),(9.27,1.1),(9.28,0.8),(9.26,0.55),(9.29,0.3),(9.27,0.05),(9.3,-0.2),(9.28,-0.55),(9.29,1.0),
    (9.31,1.2),(9.32,0.95),(9.34,0.7),(9.33,0.45),(9.35,0.2),(9.32,-0.05),(9.36,-0.35),(9.33,-1.9),(9.37,-0.65),(9.38,1.2),(9.39,0.95),(9.37,0.75),(9.4,0.5),(9.38,0.25),(9.4,-0.1),(9.39,-0.9),(9.35,-1.2),
    (9.41,1.25),(9.42,1.05),(9.44,0.8),(9.43,0.55),(9.45,0.3),(9.42,0.05),(9.46,-0.25),(9.45,-1.32),(9.47,-0.55),(9.48,1.25),(9.49,1.0),(9.47,0.7),(9.5,0.45),(9.48,0.15),(9.5,-0.35),(9.44,-0.85),
    (9.51,1.3),(9.52,1.1),(9.54,0.85),(9.53,0.6),(9.55,0.35),(9.52,0.1),(9.56,-0.15),(9.57,-0.5),(9.58,1.3),(9.59,1.0),(9.57,0.75),(9.6,0.5),(9.58,0.2),(9.6,-0.8),(9.55,-0.95),
    (9.61,1.35),(9.62,1.1),(9.64,0.9),(9.63,0.65),(9.65,0.4),(9.62,0.15),(9.66,-0.15),(9.67,-0.45),(9.68,1.3),(9.69,1.05),(9.67,0.8),(9.7,0.55),(9.68,0.25),(9.71,-1.12),(9.69,-0.7),
    (9.71,1.4),(9.72,1.15),(9.74,0.95),(9.73,0.7),(9.75,0.45),(9.72,0.2),(9.76,-0.1),(9.74,-1.38),(9.78,1.4),(9.79,1.1),(9.77,0.85),(9.8,0.6),(9.78,0.3),(9.8,-0.4),
    (9.81,1.5),(9.82,1.2),(9.84,1.0),(9.83,0.75),(9.85,0.5),(9.82,0.25),(9.86,-0.05),(9.88,1.45),(9.89,1.15),(9.87,0.85),(9.9,0.55),(9.88,-0.6),(9.89,0.25),
    (9.91,1.5),(9.92,1.25),(9.94,1.05),(9.93,0.8),(9.95,0.5),(9.92,0.25),(9.96,0.0),(9.94,-1.83),(9.98,1.5),(9.99,1.2),(9.97,0.9),(10.0,0.65),(9.98,-0.35),
    (10.01,1.6),(10.02,1.35),(10.04,1.1),(10.03,0.85),(10.05,0.55),(10.06,0.3),(10.04,0.0),(10.08,1.5),(10.09,1.25),(10.07,0.95),(10.1,0.7),(10.08,-0.5),
    (10.11,1.65),(10.12,1.4),(10.14,1.15),(10.13,0.85),(10.15,0.6),(10.16,0.3),(10.18,1.55),(10.19,1.25),(10.17,1.0),(10.2,0.7),(10.18,-0.2),
    (10.21,1.7),(10.22,1.45),(10.24,1.2),(10.23,0.9),(10.25,0.6),(10.26,0.3),(10.28,1.6),(10.29,1.3),(10.27,1.0),(10.3,0.7),(10.28,0.05),
    (10.34,1.85),(10.32,1.5),(10.31,1.2),(10.35,0.9),(10.36,0.6),(10.33,0.3),(10.38,1.65),(10.39,1.35),(10.37,1.05),(10.4,0.4),(10.38,-0.25),
    (10.42,2.08),(10.41,1.7),(10.43,1.4),(10.44,-0.93),(10.45,1.1),(10.46,0.8),(10.47,0.5),(10.48,1.6),(10.49,1.3),(10.5,0.25),
    (10.55,-1.64),(10.52,1.75),(10.53,1.45),(10.54,1.15),(10.56,0.8),(10.55,0.04),(10.58,1.55),(10.59,1.25),(10.6,0.5),
    (10.62,1.75),(10.63,1.45),(10.64,1.15),(10.67,0.1),(10.66,0.85),(10.68,1.6),(10.69,1.3),(10.7,0.6),
    (10.72,1.7),(10.73,1.45),(10.75,1.15),(10.77,0.9),(10.79,1.9),(10.78,1.55),(10.8,1.3),
    (10.83,1.55),(10.85,1.25),(10.87,1.5),(10.91,1.7),(10.9,1.05),(10.93,0.6),(10.97,0.0),(10.95,1.35),
]
BF_CORE = [
    (9.02,0.9),(9.03,0.6),(9.02,0.35),(9.04,0.1),(9.04,-0.15),(9.06,0.8),(9.06,0.45),(9.08,0.2),(9.08,-0.05),(9.09,0.6),(9.11,0.95),(9.11,0.25),(9.13,0.7),(9.14,-0.05),(9.15,0.5),(9.16,0.2),(9.18,1.0),(9.19,0.6),
    (9.21,0.8),(9.21,0.05),(9.23,1.0),(9.23,0.35),(9.25,0.75),(9.26,0.15),(9.28,0.55),(9.29,-0.05),(9.31,0.85),(9.31,0.35),(9.33,1.1),(9.35,0.6),(9.35,-0.1),(9.37,0.4),(9.39,0.8),
    (9.41,0.95),(9.41,0.35),(9.43,0.75),(9.45,1.15),(9.46,0.55),(9.47,0.05),(9.49,0.85),(9.51,1.0),(9.51,0.35),(9.53,1.25),(9.55,0.7),(9.56,0.1),(9.58,0.95),(9.59,0.4),
    (9.61,0.8),(9.61,1.25),(9.63,0.4),(9.66,1.05),(9.66,0.7),(9.68,0.15),(9.71,0.9),(9.71,0.45),(9.73,1.3),(9.76,0.75),(9.77,0.2),(9.79,1.25),(9.81,0.95),(9.82,0.45),(9.85,1.35),(9.86,0.75),(9.89,0.45),
    (9.91,1.05),(9.93,1.4),(9.95,0.8),(9.97,1.25),(10.01,1.05),(10.03,1.45),(10.06,0.8),(10.1,1.4),(10.14,1.5),(10.16,1.0),(10.2,1.6),(10.24,1.35),(10.3,1.5),(10.36,1.25),
]

YTITLE = "log<sub>10</sub> SFR [M<sub>\u2299</sub>/yr]"
XTITLE = "log<sub>10</sub> M<sub>*</sub> [M<sub>\u2299</sub>]"

# pixel boxes (left, right, top, bottom) of each panel
COLS = [(316, 482), (482, 650), (650, 818)]
ROWS = [(2, 168), (168, 335)]

panels = [
    dict(label="[MOCK]", pts=MOCK_PTS + MOCK_CORE, fit=None, box=(39, 248, 73, 264),
         xr=[9.0, 11.02], yr=[-3.25, 3.22], xlab="full", ylab=True, ysize=15),
    dict(label="[LinInc]", pts=LININC_PTS + LININC_CORE, fit=FIT_LININC, box=COLS[0] + ROWS[0],
         xr=[9.0, 11.05], yr=[-3.2, 3.22], xlab=None, ylab=True, ysize=13),
    dict(label="[CSF]", pts=CSF_PTS + CSF_CORE, fit=FIT_CSF, box=COLS[1] + ROWS[0],
         xr=[9.0, 11.05], yr=[-3.2, 3.22], xlab=None, ylab=False, ysize=13),
    dict(label="[Delay]", pts=DELAY_PTS + DELAY_CORE, fit=FIT_DELAY, box=COLS[2] + ROWS[0],
         xr=[9.0, 11.05], yr=[-3.2, 3.22], xlab=None, ylab=False, ysize=13),
    dict(label="[Tau]", pts=TAU_PTS + TAU_CORE, fit=FIT_TAU, box=COLS[0] + ROWS[1],
         xr=[9.0, 11.05], yr=[-3.2, 3.22], xlab="full", ylab=True, ysize=13),
    dict(label="[InvTau]", pts=INVTAU_PTS + INVTAU_CORE, fit=FIT_INVTAU, box=COLS[1] + ROWS[1],
         xr=[9.0, 11.05], yr=[-3.2, 3.22], xlab="skip", ylab=False, ysize=13),
    dict(label="[BF SFH]", pts=BF_PTS + BF_CORE, fit=FIT_BF, box=COLS[2] + ROWS[1],
         xr=[9.0, 11.05], yr=[-3.2, 3.22], xlab="skip", ylab=False, ysize=13),
]

fig = go.Figure()
layout = {}
XT = [9.0, 9.5, 10.0, 10.5, 11.0]

for i, p in enumerate(panels):
    n = "" if i == 0 else str(i + 1)
    xa, ya = "x" + n, "y" + n
    l, r, t, b = p["box"]

    fig.add_trace(go.Scatter(
        x=[q[0] for q in p["pts"]], y=[q[1] for q in p["pts"]],
        mode="markers", marker=dict(color="black", size=5.5, line_width=0),
        xaxis=xa, yaxis=ya, showlegend=False))
    if i == 0:
        fig.add_trace(go.Scatter(x=CURVE_MASS, y=MOCK_DOT, mode="lines",
                                 line=dict(color=RED, width=1.6, dash="dot", shape="spline"),
                                 xaxis=xa, yaxis=ya, showlegend=False))
        fig.add_trace(go.Scatter(x=CURVE_MASS, y=MOCK_DASH, mode="lines",
                                 line=dict(color=RED, width=1.6, dash="dash", shape="spline"),
                                 xaxis=xa, yaxis=ya, showlegend=False))
    fig.add_trace(go.Scatter(x=CURVE_MASS, y=TRUE_SFR, mode="lines",
                             line=dict(color=ORANGE, width=2, shape="spline"),
                             xaxis=xa, yaxis=ya, showlegend=False))
    if p["fit"]:
        fig.add_trace(go.Scatter(x=CURVE_MASS, y=p["fit"], mode="lines",
                                 line=dict(color=BLUE, width=2, shape="spline"),
                                 xaxis=xa, yaxis=ya, showlegend=False))

    common = dict(showline=True, linecolor="black", linewidth=2, mirror="allticks",
                  ticks="inside", ticklen=6, tickwidth=1.2, tickcolor="black",
                  showgrid=False, zeroline=False,
                  tickfont=dict(size=13, color="black", family=FONT))
    if p["xlab"] == "skip":
        ttext = ["", "9.5", "10.0", "10.5", "11.0"]
    else:
        ttext = ["9.0", "9.5", "10.0", "10.5", "11.0"]
    xax = dict(common, domain=[l / W, r / W], range=p["xr"], anchor=ya,
               tickmode="array", tickvals=XT, ticktext=ttext,
               showticklabels=bool(p["xlab"]),
               minor=dict(ticks="inside", ticklen=3, tickcolor="black", dtick=0.1, tick0=9.0))
    if p["xlab"]:
        xax["title"] = dict(text=XTITLE, font=dict(size=12.5, family=FONT, color="black"), standoff=1)
    yax = dict(common, domain=[1 - b / H, 1 - t / H], range=p["yr"], anchor=xa,
               tickmode="linear", tick0=0, dtick=1, showticklabels=p["ylab"],
               minor=dict(ticks="inside", ticklen=3, tickcolor="black", dtick=0.2, tick0=0))
    if p["ylab"]:
        yax["title"] = dict(text=YTITLE, font=dict(size=p["ysize"], family=FONT, color="black"), standoff=0)
    layout["xaxis" + n] = xax
    layout["yaxis" + n] = yax

    fig.add_annotation(text=p["label"], xref=xa + " domain", yref=ya + " domain",
                       x=0.03 if i else 0.02, y=0.985,
                       xanchor="left", yanchor="top", showarrow=False,
                       font=dict(size=17 if i else 19, family=FONT, color="black"))

fig.update_layout(**layout)
fig.update_layout(width=W, height=H, autosize=False,
                  margin=dict(l=0, r=0, t=0, b=0),
                  paper_bgcolor="white", plot_bgcolor="white",
                  font=dict(family=FONT, color="black"))

# page body margin would shift the figure by 8px
fig.write_html("out.html", config={"displayModeBar": False},
               post_script="document.body.style.margin='0';")
